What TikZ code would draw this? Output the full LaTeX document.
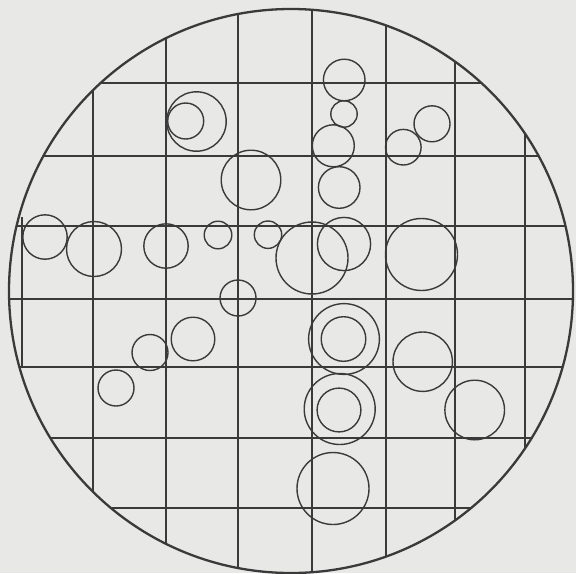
\documentclass[tikz,border=0pt]{standalone}
\definecolor{paper}{RGB}{232,232,230}
\definecolor{ink}{RGB}{58,58,58}
\begin{document}
\begin{tikzpicture}[x=0.5pt,y=-0.5pt,
  gridline/.style={draw=ink,line width=0.75pt},
  rim/.style={draw=ink,line width=1.15pt},
  cell/.style={draw=ink,line width=0.7pt}]
\fill[paper] (0,0) rectangle (576,573);
\useasboundingbox (0,0) rectangle (576,573);
\coordinate (c) at (291,291);
\begin{scope}
  \clip (c) circle[radius=282];
  \foreach \x in {93,166,238,312,386,455,525}
    \draw[gridline] (\x,0) -- (\x,573);
  \foreach \y in {83,156,226,299,367,438,508}
    \draw[gridline] (0,\y) -- (576,\y);
\end{scope}
\draw[gridline] (22,217) -- (22,368);
\draw[rim] (c) circle[radius=282];
% cells
\foreach \cx/\cy/\r in {
  196.5/121.5/29.7, 185.7/121/18,
  251/180/29.8,
  45/237/22.2, 94/249/27.5, 166/246/22.2, 218/235/13.8, 268/234.7/13.7,
  344.2/80/20.8, 344/114/13.2, 333.3/145.8/21, 339.2/187.5/20.8,
  432/123.8/18, 403.3/147.2/17.8,
  312/258/36, 344/244/26.6, 421.5/254.5/36,
  238/298/18, 193/339/21.8, 150/352.5/18, 116/388/18,
  344/339/35.4, 343.5/339/22.3,
  339.7/409/35.5, 339/410/21.9,
  422.7/361.7/29.7, 474.7/410/29.8,
  333/488.5/36}
  \draw[cell] (\cx,\cy) circle[radius=\r];
\end{tikzpicture}
\end{document}
